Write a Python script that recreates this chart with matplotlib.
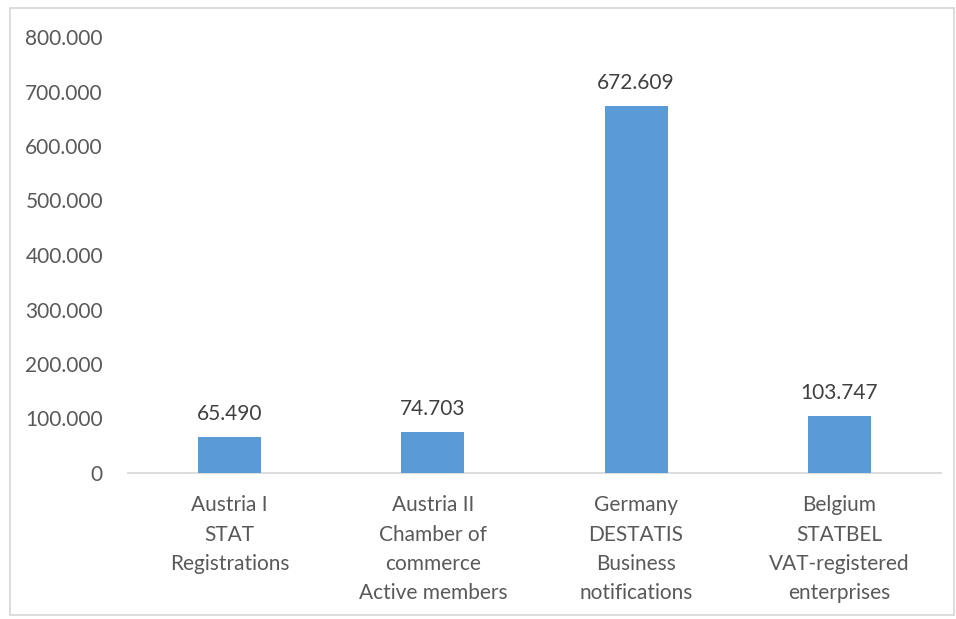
import matplotlib
matplotlib.use("Agg")
import matplotlib.pyplot as plt
from matplotlib.patches import Rectangle
from matplotlib.ticker import FuncFormatter

categories = ["Austria I\nSTAT\nRegistrations",
              "Austria II\nChamber of\ncommerce\nActive members",
              "Germany\nDESTATIS\nBusiness\nnotifications",
              "Belgium\nSTATBEL\nVAT-registered\nenterprises"]
values = [65490, 74703, 672609, 103747]
yticks = [0, 100000, 200000, 300000, 400000, 500000, 600000, 700000, 800000]

plt.rcParams['font.family'] = ['Lato', 'DejaVu Sans']
txt = '#595959'

fig = plt.figure(figsize=(9.56, 6.19), dpi=100)
ax = fig.add_axes([128/956, 1-473/619, (941-128)/956, (473-37)/619])

def fmt(v):
    return f"{int(round(v)):,}".replace(",", ".")

x = list(range(len(values)))
ax.bar(x, values, width=0.31, color='#5B9BD5', zorder=3)
for xi, v in zip(x, values):
    ax.text(xi, v + 25000, fmt(v), ha='center', va='bottom', fontsize=15, color='#404040')

ax.set_xlim(-0.5, 3.5)
ax.set_ylim(0, 800000)
ax.set_yticks(yticks)
ax.yaxis.set_major_formatter(FuncFormatter(lambda v, p: fmt(v)))
ax.set_xticks(x)
ax.set_xticklabels(categories, fontsize=15, color=txt, linespacing=1.58)
ax.tick_params(axis='y', length=0, pad=18, labelsize=15, labelcolor=txt)
ax.tick_params(axis='x', length=0, pad=16)
for s in ['left', 'right', 'top']:
    ax.spines[s].set_visible(False)
ax.spines['bottom'].set_color('#D9D9D9')
ax.spines['bottom'].set_linewidth(1.3)

fig.patches.append(Rectangle((10/956, 1-615/619), (954-10)/956, (615-8)/619,
                             transform=fig.transFigure, fill=False,
                             edgecolor='#D9D9D9', linewidth=1.3))

fig.savefig("out.png", dpi=100)
